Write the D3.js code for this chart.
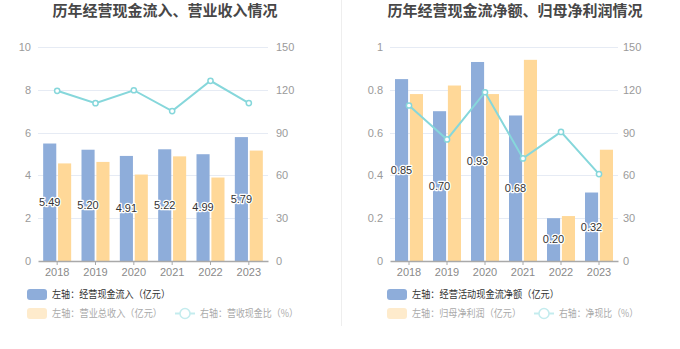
<!DOCTYPE html>
<html>
<head>
<meta charset="utf-8">
<script src="https://cdn.jsdelivr.net/npm/d3@7/dist/d3.min.js"></script>
<style>
  html, body { margin: 0; padding: 0; background: #fff; }
  svg { display: block; font-family: "Noto Sans CJK SC", "Noto Sans", sans-serif; }
</style>
</head>
<body>
<svg id="chart" width="680" height="349"></svg>
<script>
// Years shared by both panels
const years = ["2018", "2019", "2020", "2021", "2022", "2023"];

// Panel 1: operating cash inflow vs. revenue (亿元), ratio (%)
const cashInflow = [5.49, 5.20, 4.91, 5.22, 4.99, 5.79];
const revenue = [4.56, 4.63, 4.04, 4.89, 3.90, 5.16];
const inflowRatio = [119.3, 110.6, 119.7, 105.1, 126.3, 110.7];

// Panel 2: net operating cash flow vs. net profit attributable (亿元), ratio (%)
const netCashFlow = [0.85, 0.70, 0.93, 0.68, 0.20, 0.32];
const netProfit = [0.78, 0.82, 0.78, 0.94, 0.21, 0.52];
const netRatio = [109.0, 85.2, 118.3, 71.9, 90.5, 60.9];

// Axis ticks
const leftTicks1 = [0, 2, 4, 6, 8, 10];
const leftTicks2 = [0, 0.2, 0.4, 0.6, 0.8, 1];
const rightTicks = [0, 30, 60, 90, 120, 150];

const titles = ["历年经营现金流入、营业收入情况", "历年经营现金流净额、归母净利润情况"];
const legends1 = ["左轴：经营现金流入（亿元）", "左轴：营业总收入（亿元）", "右轴：营收现金比（%）"];
const legends2 = ["左轴：经营活动现金流净额（亿元）", "左轴：归母净利润（亿元）", "右轴：净现比（%）"];

const BLUE = "#8eadda";
const ORANGE = "#ffd898";
const CYAN = "#86d7db";

const svg = d3.select("#chart");

// thin divider between the two panels
svg.append("line")
  .attr("x1", 341.5).attr("x2", 341.5).attr("y1", 0).attr("y2", 326)
  .attr("stroke", "#eeeeee").attr("stroke-width", 1);

function drawPanel(cfg) {
  const g = svg.append("g");
  const yTop = 47, yBot = 261;

  const x = d3.scaleBand().domain(years).range([cfg.x0, cfg.x1]);
  const yL = d3.scaleLinear().domain([0, cfg.leftMax]).range([yBot, yTop]);
  const yR = d3.scaleLinear().domain([0, 150]).range([yBot, yTop]);
  const sub = d3.scaleBand().domain(["a", "b"]).range([-14, 14]).paddingInner(0.12);

  // title
  g.append("text")
    .attr("x", cfg.titleX).attr("y", 16)
    .attr("text-anchor", "middle")
    .attr("font-size", 15).attr("font-weight", "bold")
    .attr("fill", "#474747")
    .text(cfg.title);

  // grid lines
  g.selectAll(".grid").data(cfg.leftTicks.slice(1)).join("line")
    .attr("x1", cfg.x0).attr("x2", cfg.x1)
    .attr("y1", d => Math.round(yL(d)) + 0.5).attr("y2", d => Math.round(yL(d)) + 0.5)
    .attr("stroke", "#e6ebf4").attr("stroke-width", 1);

  // left axis labels
  const axL = d3.axisLeft(yL).tickValues(cfg.leftTicks).tickSize(0).tickPadding(cfg.padL)
    .tickFormat(d => String(d));
  const gL = g.append("g").attr("transform", `translate(${cfg.x0},0)`).call(axL);
  gL.select(".domain").remove();
  gL.selectAll("text").attr("fill", "#9a9a9a").attr("font-size", 11)
    .attr("font-family", "Liberation Sans, Arial, sans-serif");

  // right axis labels
  const axR = d3.axisRight(yR).tickValues(rightTicks).tickSize(0).tickPadding(cfg.padR);
  const gR = g.append("g").attr("transform", `translate(${cfg.x1},0)`).call(axR);
  gR.select(".domain").remove();
  gR.selectAll("text").attr("fill", "#9a9a9a").attr("font-size", 11)
    .attr("font-family", "Liberation Sans, Arial, sans-serif");

  // bars
  const cx = d => x(d) + x.bandwidth() / 2;
  g.selectAll(".barA").data(years).join("rect")
    .attr("x", (d) => cx(d) + sub("a"))
    .attr("width", sub.bandwidth())
    .attr("y", (d, i) => yL(cfg.barA[i]))
    .attr("height", (d, i) => yBot - yL(cfg.barA[i]))
    .attr("fill", BLUE);
  g.selectAll(".barB").data(years).join("rect")
    .attr("x", (d) => cx(d) + sub("b"))
    .attr("width", sub.bandwidth())
    .attr("y", (d, i) => yL(cfg.barB[i]))
    .attr("height", (d, i) => yBot - yL(cfg.barB[i]))
    .attr("fill", ORANGE);

  // bottom axis
  const axB = d3.axisBottom(x).tickSize(4).tickPadding(3).tickSizeOuter(0);
  const gB = g.append("g").attr("transform", `translate(0,${yBot})`).call(axB);
  gB.select(".domain").attr("stroke", "#a9a9a9").attr("stroke-width", 1.5);
  gB.selectAll(".tick line").attr("stroke", "#a9a9a9");
  gB.selectAll("text").attr("fill", "#8a8a8a").attr("font-size", 11)
    .attr("font-family", "Liberation Sans, Arial, sans-serif");

  // ratio line
  const line = d3.line().x(d => cx(d.year)).y(d => yR(d.v));
  const pts = years.map((yr, i) => ({ year: yr, v: cfg.ratio[i] }));
  g.append("path").datum(pts)
    .attr("d", line).attr("fill", "none")
    .attr("stroke", CYAN).attr("stroke-width", 2);
  g.selectAll(".pt").data(pts).join("circle")
    .attr("cx", d => cx(d.year)).attr("cy", d => yR(d.v)).attr("r", 2.6)
    .attr("fill", "#fff").attr("stroke", CYAN).attr("stroke-width", 1.5);

  // value labels on blue bars
  g.selectAll(".lbl").data(years).join("text")
    .attr("x", d => cx(d) + sub("a") + sub.bandwidth() / 2)
    .attr("y", (d, i) => (yL(cfg.barA[i]) + yBot) / 2)
    .attr("dy", "0.35em")
    .attr("text-anchor", "middle")
    .attr("font-size", 11)
    .attr("font-family", "Liberation Sans, Arial, sans-serif")
    .attr("fill", "#333")
    .attr("stroke", "#fff").attr("stroke-width", 2.5)
    .attr("paint-order", "stroke")
    .attr("stroke-linejoin", "round")
    .text((d, i) => cfg.barA[i].toFixed(2));

  // legend
  const lg = g.append("g").attr("font-size", 10);
  const legText = (xPos, yPos, fill, w, str) =>
    lg.append("text").attr("x", xPos).attr("y", yPos).attr("dy", "0.35em")
      .attr("fill", fill).attr("textLength", w).attr("lengthAdjust", "spacingAndGlyphs")
      .text(str);
  lg.append("rect").attr("x", cfg.legX).attr("y", 289).attr("width", 20).attr("height", 11)
    .attr("rx", 3).attr("fill", BLUE);
  legText(cfg.legX + 25, 294.5, "#333", cfg.legW[0], cfg.legends[0]);
  lg.append("rect").attr("x", cfg.legX).attr("y", 308).attr("width", 20).attr("height", 11)
    .attr("rx", 3).attr("fill", "#feebcc");
  legText(cfg.legX + 25, 313.5, "#aaaaaa", cfg.legW[1], cfg.legends[1]);
  lg.append("line").attr("x1", cfg.leg3X).attr("x2", cfg.leg3X + 20)
    .attr("y1", 313.5).attr("y2", 313.5).attr("stroke", "#c4ecee").attr("stroke-width", 2);
  lg.append("circle").attr("cx", cfg.leg3X + 10).attr("cy", 313.5).attr("r", 5)
    .attr("fill", "#fff").attr("stroke", "#c4ecee").attr("stroke-width", 1.5);
  legText(cfg.leg3X + 25, 313.5, "#aaaaaa", cfg.legW[2], cfg.legends[2]);
}

drawPanel({
  x0: 38, x1: 268, leftMax: 10, leftTicks: leftTicks1, padL: 7, padR: 8,
  title: titles[0], titleX: 165,
  barA: cashInflow, barB: revenue, ratio: inflowRatio,
  legends: legends1, legX: 27, leg3X: 175, legW: [118, 110, 98]
});

drawPanel({
  x0: 390, x1: 618, leftMax: 1, leftTicks: leftTicks2, padL: 7, padR: 5,
  title: titles[1], titleX: 515,
  barA: netCashFlow, barB: netProfit, ratio: netRatio,
  legends: legends2, legX: 387, leg3X: 534, legW: [147, 109, 79]
});
</script>
</body>
</html>
